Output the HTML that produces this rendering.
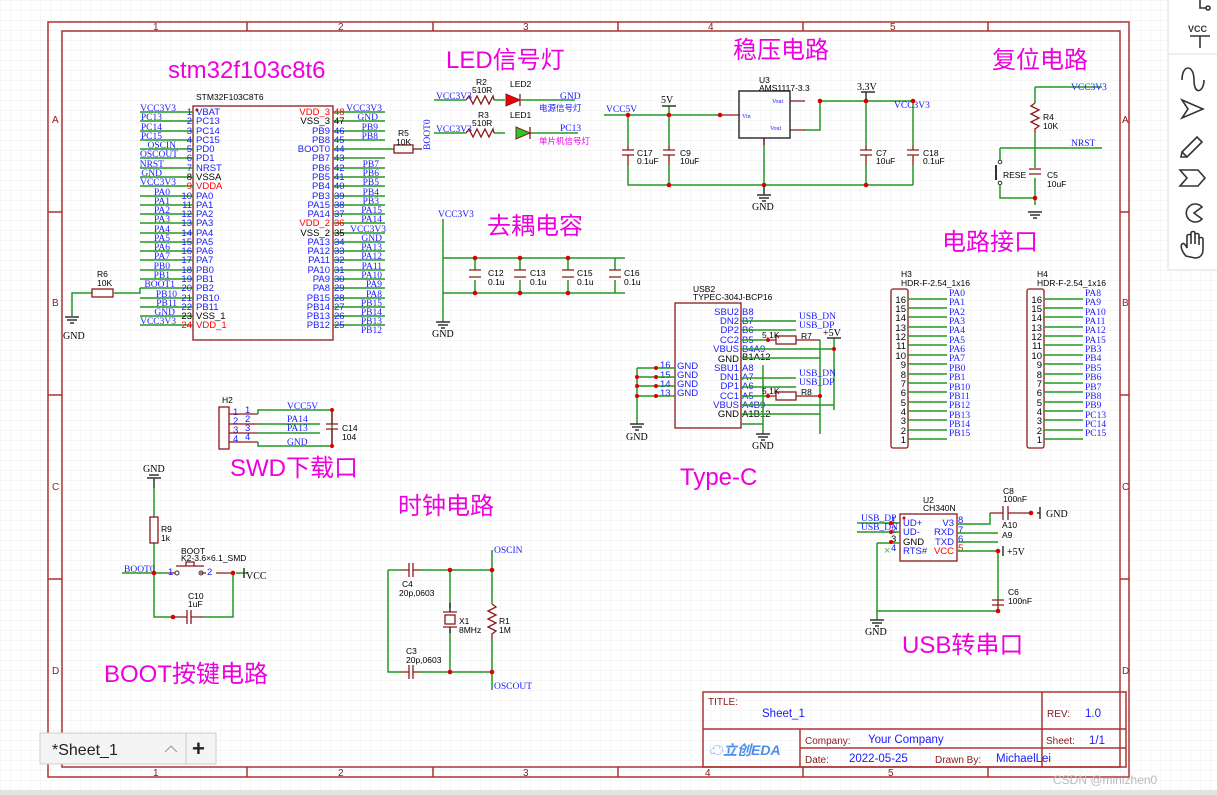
<!DOCTYPE html>
<html><head><meta charset="utf-8">
<style>
html,body{margin:0;padding:0;width:1217px;height:795px;overflow:hidden;background:#fff}
svg{display:block}
.w{stroke:#229922;stroke-width:1.5;fill:none}
.r{stroke:#8b1a1a;stroke-width:1.3;fill:none}
.f{stroke:#a33;fill:none;stroke-width:1.5}
.n{font-family:"Liberation Serif",serif;font-size:9.5px;fill:#1a1aff}
.p{font-family:"Liberation Sans",sans-serif;font-size:9.5px;fill:#1a1aff}
.k{font-family:"Liberation Sans",sans-serif;font-size:9.5px;fill:#000}
.red{font-family:"Liberation Sans",sans-serif;font-size:9.5px;fill:#f00}
.s{font-family:"Liberation Sans",sans-serif;font-size:8.5px;fill:#000}
.g{font-family:"Liberation Serif",serif;font-size:10px;fill:#000}
.m{font-family:"Liberation Sans","Noto Sans CJK SC",sans-serif;font-size:24px;fill:#ee00dd}
.d{fill:#d00}
.tb{font-family:"Liberation Sans",sans-serif;font-size:10px;fill:#8b1a1a}
.tv{font-family:"Liberation Sans",sans-serif;font-size:11.5px;fill:#1a1aff}
</style></head><body>
<svg width="1217" height="795" viewBox="0 0 1217 795" xmlns="http://www.w3.org/2000/svg">
<defs>
<pattern id="gr" width="10" height="10" patternUnits="userSpaceOnUse"><path d="M10 0H0V10" fill="none" stroke="#ececec" stroke-width="1"/></pattern>
</defs>
<rect width="1217" height="795" fill="url(#gr)"/>
<!-- frame -->
<rect x="48" y="22" width="1081" height="755" class="f"/>
<rect x="62" y="31" width="1058" height="736" class="f"/>
<g class="f">
<path d="M247 22V31M433 22V31M618 22V31M803 22V31M988 22V31"/>
<path d="M247 767V777M433 767V777M618 767V777M803 767V777M988 767V777"/>
<path d="M48 212H62M48 395H62M48 579H62M1120 212H1129M1120 395H1129M1120 579H1129"/>
</g>
<g class="tb" font-size="9">
<text x="153" y="30">1</text><text x="338" y="30">2</text><text x="523" y="30">3</text><text x="708" y="30">4</text><text x="890" y="30">5</text>
<text x="153" y="776">1</text><text x="338" y="776">2</text><text x="523" y="776">3</text><text x="705" y="776">4</text><text x="888" y="776">5</text>
<text x="52" y="123">A</text><text x="52" y="306">B</text><text x="52" y="490">C</text><text x="52" y="674">D</text>
<text x="1122" y="123">A</text><text x="1122" y="306">B</text><text x="1122" y="490">C</text><text x="1122" y="674">D</text>
</g>

<!-- titles -->
<text x="168" y="78" class="m">stm32f103c8t6</text>
<text x="446" y="68" class="m">LED信号灯</text>
<text x="733" y="58" class="m">稳压电路</text>
<text x="992" y="68" class="m">复位电路</text>
<text x="487" y="234" class="m">去耦电容</text>
<text x="942" y="250" class="m">电路接口</text>
<text x="230" y="476" class="m" font-size="17">SWD下载口</text>
<text x="680" y="485" class="m" font-size="28">Type-C</text>
<text x="398" y="514" class="m">时钟电路</text>
<text x="104" y="682" class="m">BOOT按键电路</text>
<text x="902" y="653" class="m">USB转串口</text>

<!-- STM32 -->
<text x="196" y="100" class="s">STM32F103C8T6</text>
<rect x="193" y="106" width="140" height="234" class="r"/>
<circle cx="197" cy="110" r="1.5" class="d"/>
<g class="w">
<path d="M140 112H193M140 121H193M140 131H193M140 140H193M140 149H193M140 158H193M140 168H193M140 177H193M140 186H193M140 196H193M140 205H193M140 214H193M140 223H193M140 233H193M140 242H193M140 251H193M140 260H193M140 270H193M140 279H193M140 288H193M140 298H193M140 307H193M140 316H193M140 325H193"/>
<path d="M333 112H385M333 121H385M333 131H385M333 140H385M333 158H385M333 168H385M333 177H385M333 186H385M333 196H385M333 205H385M333 214H385M333 223H385M333 233H385M333 242H385M333 251H385M333 260H385M333 270H385M333 279H385M333 288H385M333 298H385M333 307H385M333 316H385M333 325H385"/>
<path d="M333 149H394"/>
<path d="M72 316V293H92M114 293H140V288"/>
</g>
<g class="n" text-anchor="end">
<text x="176" y="111">VCC3V3</text><text x="162" y="120">PC13</text><text x="162" y="130">PC14</text><text x="162" y="139">PC15</text><text x="176" y="148">OSCIN</text><text x="178" y="157">OSCOUT</text><text x="164" y="167">NRST</text><text x="162" y="176">GND</text><text x="176" y="185">VCC3V3</text>
<text x="170" y="195">PA0</text><text x="170" y="204">PA1</text><text x="170" y="213">PA2</text><text x="170" y="222">PA3</text><text x="170" y="232">PA4</text><text x="170" y="241">PA5</text><text x="170" y="250">PA6</text><text x="170" y="259">PA7</text><text x="170" y="269">PB0</text><text x="170" y="278">PB1</text><text x="175" y="287">BOOT1</text><text x="177" y="297">PB10</text><text x="177" y="306">PB11</text><text x="175" y="315">GND</text><text x="176" y="324">VCC3V3</text>
<text x="382" y="111">VCC3V3</text><text x="378" y="120">GND</text><text x="378" y="130">PB9</text><text x="378" y="139">PB8</text><text x="379" y="167">PB7</text><text x="379" y="176">PB6</text><text x="379" y="185">PB5</text><text x="379" y="195">PB4</text><text x="379" y="204">PB3</text><text x="382" y="213">PA15</text><text x="382" y="222">PA14</text><text x="386" y="232">VCC3V3</text><text x="382" y="241">GND</text><text x="382" y="250">PA13</text><text x="382" y="259">PA12</text><text x="382" y="269">PA11</text><text x="382" y="278">PA10</text><text x="382" y="287">PA9</text><text x="382" y="297">PA8</text><text x="382" y="306">PB15</text><text x="382" y="315">PB14</text><text x="382" y="324">PB13</text><text x="382" y="333">PB12</text>
</g>
<g class="p" text-anchor="end">
<text x="192" y="115">1</text><text x="192" y="124">2</text><text x="192" y="134">3</text><text x="192" y="143">4</text><text x="192" y="152">5</text><text x="192" y="161">6</text><text x="192" y="171">7</text><text x="192" y="180" fill="#000">8</text><text x="192" y="189" fill="#f00">9</text><text x="192" y="199">10</text><text x="192" y="208">11</text><text x="192" y="217">12</text><text x="192" y="226">13</text><text x="192" y="236">14</text><text x="192" y="245">15</text><text x="192" y="254">16</text><text x="192" y="263">17</text><text x="192" y="273">18</text><text x="192" y="282">19</text><text x="192" y="291">20</text><text x="192" y="301">21</text><text x="192" y="310">22</text><text x="192" y="319" fill="#000">23</text><text x="192" y="328" fill="#f00">24</text>
<text x="330" y="115" fill="#f00">VDD_3</text><text x="330" y="124" fill="#000">VSS_3</text><text x="330" y="134">PB9</text><text x="330" y="143">PB8</text><text x="330" y="152">BOOT0</text><text x="330" y="161">PB7</text><text x="330" y="171">PB6</text><text x="330" y="180">PB5</text><text x="330" y="189">PB4</text><text x="330" y="199">PB3</text><text x="330" y="208">PA15</text><text x="330" y="217">PA14</text><text x="330" y="226" fill="#f00">VDD_2</text><text x="330" y="236" fill="#000">VSS_2</text><text x="330" y="245">PA13</text><text x="330" y="254">PA12</text><text x="330" y="263">PA11</text><text x="330" y="273">PA10</text><text x="330" y="282">PA9</text><text x="330" y="291">PA8</text><text x="330" y="301">PB15</text><text x="330" y="310">PB14</text><text x="330" y="319">PB13</text><text x="330" y="328">PB12</text>
</g>
<g class="p">
<text x="196" y="115">VBAT</text><text x="196" y="124">PC13</text><text x="196" y="134">PC14</text><text x="196" y="143">PC15</text><text x="196" y="152">PD0</text><text x="196" y="161">PD1</text><text x="196" y="171">NRST</text><text x="196" y="180" fill="#000">VSSA</text><text x="196" y="189" fill="#f00">VDDA</text><text x="196" y="199">PA0</text><text x="196" y="208">PA1</text><text x="196" y="217">PA2</text><text x="196" y="226">PA3</text><text x="196" y="236">PA4</text><text x="196" y="245">PA5</text><text x="196" y="254">PA6</text><text x="196" y="263">PA7</text><text x="196" y="273">PB0</text><text x="196" y="282">PB1</text><text x="196" y="291">PB2</text><text x="196" y="301">PB10</text><text x="196" y="310">PB11</text><text x="196" y="319" fill="#000">VSS_1</text><text x="196" y="328" fill="#f00">VDD_1</text>
<text x="334" y="115" fill="#f00">48</text><text x="334" y="124" fill="#000">47</text><text x="334" y="134">46</text><text x="334" y="143">45</text><text x="334" y="152">44</text><text x="334" y="161">43</text><text x="334" y="171">42</text><text x="334" y="180">41</text><text x="334" y="189">40</text><text x="334" y="199">39</text><text x="334" y="208">38</text><text x="334" y="217">37</text><text x="334" y="226" fill="#f00">36</text><text x="334" y="236" fill="#000">35</text><text x="334" y="245">34</text><text x="334" y="254">33</text><text x="334" y="263">32</text><text x="334" y="273">31</text><text x="334" y="282">30</text><text x="334" y="291">29</text><text x="334" y="301">28</text><text x="334" y="310">27</text><text x="334" y="319">26</text><text x="334" y="328">25</text>
</g>
<!-- R5 -->
<rect x="394" y="145" width="19" height="8" class="r"/><path d="M413 149H422" class="r"/>
<text x="398" y="136" class="s">R5</text><text x="396" y="145" class="s">10K</text>
<text x="430" y="150" class="n" transform="rotate(-90 430 150)">BOOT0</text>
<!-- R6 -->
<rect x="92" y="289" width="21" height="8" class="r"/>
<text x="97" y="277" class="s">R6</text><text x="97" y="286" class="s">10K</text>
<path d="M65 317H79M67 320H77M70 323H74" stroke="#333" stroke-width="1.5"/>
<text x="63" y="339" class="g">GND</text>

<!-- LED -->
<g class="w"><path d="M434 100H466M494 100H505M521 100H575M434 133H466M494 133H505M530 133H578"/></g>
<path d="M466 100l3-4 4 8 4-8 4 8 4-8 4 8 4-8 1 4M466 133l3-4 4 8 4-8 4 8 4-8 4 8 4-8 1 4" class="r"/>
<path d="M506 94V106L520 100Z" fill="#e00" stroke="#8b1a1a"/><path d="M520 94V106" class="r"/>
<path d="M516 127V139L530 133Z" fill="#2c2" stroke="#8b1a1a"/><path d="M530 127V139" class="r"/>
<text x="436" y="99" class="n">VCC3V3</text><text x="436" y="132" class="n">VCC3V3</text>
<text x="476" y="85" class="s">R2</text><text x="472" y="93" class="s">510R</text>
<text x="478" y="118" class="s">R3</text><text x="472" y="126" class="s">510R</text>
<text x="510" y="87" class="s">LED2</text><text x="510" y="118" class="s">LED1</text>
<text x="560" y="99" class="n">GND</text><text x="560" y="131" class="n">PC13</text>
<text x="539" y="111" font-size="8.5" font-family="Liberation Sans,Noto Sans CJK SC,sans-serif" fill="#1a1aff">电源信号灯</text>
<text x="539" y="144" font-size="8.5" font-family="Liberation Sans,Noto Sans CJK SC,sans-serif" fill="#e0e">单片机信号灯</text>

<!-- regulator -->
<g class="w"><path d="M604 115H720M628 115V145M669 115V145M628 165V185H913M669 165V185M764 138V185M820 101H913M820 101V130H804M866 101V145M866 165V185M913 101V145M913 165V185M669 115V106"/></g>
<path d="M720 115H740M790 101H805M790 130H805M764 138V145" class="r"/>
<rect x="739" y="91" width="51" height="47" stroke="#333" fill="none" stroke-width="1.5"/>
<text x="759" y="83" class="s">U3</text><text x="759" y="91" class="s">AMS1117-3.3</text>
<text x="742" y="118" font-size="6" fill="#1a1aff" font-family="Liberation Serif,serif">Vin</text>
<text x="772" y="103" font-size="6" fill="#1a1aff" font-family="Liberation Serif,serif">Vout</text>
<text x="770" y="130" font-size="6" fill="#1a1aff" font-family="Liberation Serif,serif">Vout</text>
<text x="606" y="112" class="n">VCC5V</text>
<path d="M662 106H676M861 92H875M866 92V101" stroke="#333" stroke-width="1.5"/>
<text x="661" y="103" class="g">5V</text><text x="857" y="90" class="g">3.3V</text>
<text x="894" y="108" class="n">VCC3V3</text>
<g class="r"><path d="M622 150H634M622 155H634M663 150H675M663 155H675M860 150H872M860 155H872M907 150H919M907 155H919M628 145V150M628 155V165M669 145V150M669 155V165M866 145V150M866 155V165M913 145V150M913 155V165"/></g>
<text x="637" y="156" class="s">C17</text><text x="637" y="164" class="s">0.1uF</text>
<text x="680" y="156" class="s">C9</text><text x="680" y="164" class="s">10uF</text>
<text x="876" y="156" class="s">C7</text><text x="876" y="164" class="s">10uF</text>
<text x="923" y="156" class="s">C18</text><text x="923" y="164" class="s">0.1uF</text>
<g class="d"><circle cx="628" cy="115" r="2.3"/><circle cx="669" cy="115" r="2.3"/><circle cx="720" cy="115" r="2.3"/><circle cx="820" cy="101" r="2.3"/><circle cx="866" cy="101" r="2.3"/><circle cx="913" cy="101" r="2.3"/><circle cx="669" cy="185" r="2.3"/><circle cx="764" cy="185" r="2.3"/><circle cx="866" cy="185" r="2.3"/></g>
<path d="M757 195H771M759 198H769M762 201H766M764 185V195" stroke="#333" stroke-width="1.5"/>
<text x="752" y="210" class="g">GND</text>

<!-- reset -->
<g class="w"><path d="M1035 87H1102M1035 87V103M1035 133V148H1102M1000 148H1035M1000 148V160M1000 185V198H1035M1035 148V168M1035 178V198V205"/></g>
<path d="M1035 103l-4 3 8 4-8 4 8 4-8 4 8 4-4 3V133" class="r"/>
<path d="M1029 169H1041M1029 174H1041" class="r"/>
<path d="M996 165V180" stroke="#333" stroke-width="2"/>
<circle cx="1000" cy="162" r="1.8" fill="none" stroke="#333"/><circle cx="1000" cy="183" r="1.8" fill="none" stroke="#333"/>
<circle cx="1035" cy="198" r="2.3" class="d"/>
<text x="1071" y="90" class="n">VCC3V3</text><text x="1071" y="146" class="n">NRST</text>
<text x="1043" y="120" class="s">R4</text><text x="1043" y="129" class="s">10K</text>
<text x="1003" y="178" class="s">RESE</text><text x="1047" y="178" class="s">C5</text><text x="1047" y="187" class="s">10uF</text>
<path d="M1028 212H1042M1030 215H1040M1033 218H1037" stroke="#333" stroke-width="1.5"/>

<!-- decoupling -->
<g class="w"><path d="M443 219V293M443 258H625M443 293H625M475 258V270M475 280V293M520 258V270M520 280V293M568 258V270M568 280V293M615 258V270M615 280V293M443 293V322"/></g>
<g class="r"><path d="M469 270H481M469 277H481M514 270H526M514 277H526M562 270H574M562 277H574M609 270H621M609 277H621"/></g>
<text x="438" y="217" class="n">VCC3V3</text>
<text x="488" y="276" class="s">C12</text><text x="488" y="285" class="s">0.1u</text>
<text x="530" y="276" class="s">C13</text><text x="530" y="285" class="s">0.1u</text>
<text x="577" y="276" class="s">C15</text><text x="577" y="285" class="s">0.1u</text>
<text x="624" y="276" class="s">C16</text><text x="624" y="285" class="s">0.1u</text>
<g class="d"><circle cx="475" cy="258" r="2.3"/><circle cx="520" cy="258" r="2.3"/><circle cx="568" cy="258" r="2.3"/><circle cx="475" cy="293" r="2.3"/><circle cx="520" cy="293" r="2.3"/><circle cx="568" cy="293" r="2.3"/></g>
<path d="M436 322H450M438 325H448M441 328H445" stroke="#333" stroke-width="1.5"/>
<text x="432" y="337" class="g">GND</text>

<!-- H2 -->
<rect x="219" y="407" width="10" height="42" class="r"/>
<text x="222" y="403" class="s">H2</text>
<g class="p"><text x="233" y="415">1</text><text x="233" y="424">2</text><text x="233" y="433">3</text><text x="233" y="442">4</text><text x="245" y="413">1</text><text x="245" y="422">2</text><text x="245" y="431">3</text><text x="245" y="440">4</text></g>
<g class="r"><path d="M229 414H258M229 424H258M229 433H258M229 442H258"/></g>
<g class="w"><path d="M258 414V410H332V446H258V442M258 424H320M258 433H320"/></g>
<path d="M326 424H338M326 429H338M332 410V424M332 429V446" class="r"/>
<text x="287" y="409" class="n">VCC5V</text><text x="287" y="422" class="n">PA14</text><text x="287" y="431" class="n">PA13</text><text x="287" y="445" class="n">GND</text>
<text x="342" y="431" class="s">C14</text><text x="342" y="440" class="s">104</text>
<circle cx="332" cy="410" r="2" class="d"/><circle cx="332" cy="446" r="2" class="d"/>

<!-- USB2 -->
<rect x="675" y="303" width="66" height="125" class="r"/>
<text x="693" y="292" class="s">USB2</text><text x="693" y="300" class="s">TYPEC-304J-BCP16</text>
<g class="p" text-anchor="end"><text x="739" y="315">SBU2</text><text x="739" y="324">DN2</text><text x="739" y="333">DP2</text><text x="739" y="343">CC2</text><text x="739" y="352">VBUS</text><text x="739" y="362" fill="#000">GND</text><text x="739" y="371">SBU1</text><text x="739" y="380">DN1</text><text x="739" y="389">DP1</text><text x="739" y="399">CC1</text><text x="739" y="408">VBUS</text><text x="739" y="417" fill="#000">GND</text></g>
<g class="p"><text x="742" y="315">B8</text><text x="742" y="324">B7</text><text x="742" y="333">B6</text><text x="742" y="343">B5</text><text x="742" y="352">B4A9</text><text x="742" y="360" fill="#000">B1A12</text><text x="742" y="371">A8</text><text x="742" y="380">A7</text><text x="742" y="389">A6</text><text x="742" y="399">A5</text><text x="742" y="408">A4B9</text><text x="742" y="417" fill="#000">A1B12</text>
<text x="677" y="369">GND</text><text x="677" y="378">GND</text><text x="677" y="387">GND</text><text x="677" y="396">GND</text><text x="660" y="368">16</text><text x="660" y="378">15</text><text x="660" y="387">14</text><text x="660" y="396">13</text></g>
<g class="w"><path d="M741 321H796M741 330H796M741 340H770M741 349H834M834 338V410M741 358H820M820 340V434M741 378H796M741 387H796M741 396H770M741 405H834M741 414H820M741 424H763M763 365V434M637 368V424M637 368H675M637 377H675M637 386H675M637 396H675"/></g>
<path d="M770 340H776M796 340H820M770 396H776M796 396H820" class="r"/>
<rect x="776" y="336" width="20" height="8" class="r"/><rect x="776" y="392" width="20" height="8" class="r"/>
<text x="762" y="338" class="s">5.1K</text><text x="762" y="394" class="s">5.1K</text><text x="801" y="339" class="s">R7</text><text x="801" y="395" class="s">R8</text>
<text x="799" y="319" class="n">USB_DN</text><text x="799" y="328" class="n">USB_DP</text><text x="799" y="376" class="n">USB_DN</text><text x="799" y="385" class="n">USB_DP</text>
<path d="M827 338H841" stroke="#333" stroke-width="1.5"/><text x="823" y="336" class="g">+5V</text>
<g class="d"><circle cx="834" cy="349" r="2"/><circle cx="820" cy="396" r="2"/><circle cx="768" cy="340" r="2"/><circle cx="768" cy="396" r="2"/><circle cx="637" cy="377" r="2"/><circle cx="637" cy="386" r="2"/><circle cx="637" cy="396" r="2"/><circle cx="656" cy="368" r="2"/><circle cx="656" cy="377" r="2"/><circle cx="656" cy="386" r="2"/><circle cx="656" cy="396" r="2"/></g>
<path d="M630 424H644M632 427H642M635 430H639M756 434H770M758 437H768M761 440H765" stroke="#333" stroke-width="1.5"/>
<text x="626" y="440" class="g">GND</text><text x="752" y="449" class="g">GND</text>

<!-- H3 H4 -->
<text x="901" y="277" class="s">H3</text><text x="901" y="286" class="s">HDR-F-2.54_1x16</text>
<text x="1037" y="277" class="s">H4</text><text x="1037" y="286" class="s">HDR-F-2.54_1x16</text>
<rect x="891" y="289" width="17" height="159" rx="2" class="r"/>
<rect x="1027" y="289" width="17" height="159" rx="2" class="r"/>
<g class="w"><path d="M908 299H947M908 308H947M908 317H947M908 327H947M908 336H947M908 345H947M908 355H947M908 364H947M908 374H947M908 383H947M908 392H947M908 402H947M908 411H947M908 420H947M908 430H947M908 439H947"/>
<path d="M1044 299H1083M1044 308H1083M1044 317H1083M1044 327H1083M1044 336H1083M1044 345H1083M1044 355H1083M1044 364H1083M1044 374H1083M1044 383H1083M1044 392H1083M1044 402H1083M1044 411H1083M1044 420H1083M1044 430H1083M1044 439H1083"/></g>
<g class="k" text-anchor="end"><text x="906" y="303">16</text><text x="906" y="312">15</text><text x="906" y="321">14</text><text x="906" y="331">13</text><text x="906" y="340">12</text><text x="906" y="349">11</text><text x="906" y="359">10</text><text x="906" y="368">9</text><text x="906" y="378">8</text><text x="906" y="387">7</text><text x="906" y="396">6</text><text x="906" y="406">5</text><text x="906" y="415">4</text><text x="906" y="424">3</text><text x="906" y="434">2</text><text x="906" y="443">1</text>
<text x="1042" y="303">16</text><text x="1042" y="312">15</text><text x="1042" y="321">14</text><text x="1042" y="331">13</text><text x="1042" y="340">12</text><text x="1042" y="349">11</text><text x="1042" y="359">10</text><text x="1042" y="368">9</text><text x="1042" y="378">8</text><text x="1042" y="387">7</text><text x="1042" y="396">6</text><text x="1042" y="406">5</text><text x="1042" y="415">4</text><text x="1042" y="424">3</text><text x="1042" y="434">2</text><text x="1042" y="443">1</text></g>
<g class="n"><text x="949" y="296">PA0</text><text x="949" y="305">PA1</text><text x="949" y="315">PA2</text><text x="949" y="324">PA3</text><text x="949" y="333">PA4</text><text x="949" y="343">PA5</text><text x="949" y="352">PA6</text><text x="949" y="361">PA7</text><text x="949" y="371">PB0</text><text x="949" y="380">PB1</text><text x="949" y="390">PB10</text><text x="949" y="399">PB11</text><text x="949" y="408">PB12</text><text x="949" y="418">PB13</text><text x="949" y="427">PB14</text><text x="949" y="436">PB15</text>
<text x="1085" y="296">PA8</text><text x="1085" y="305">PA9</text><text x="1085" y="315">PA10</text><text x="1085" y="324">PA11</text><text x="1085" y="333">PA12</text><text x="1085" y="343">PA15</text><text x="1085" y="352">PB3</text><text x="1085" y="361">PB4</text><text x="1085" y="371">PB5</text><text x="1085" y="380">PB6</text><text x="1085" y="390">PB7</text><text x="1085" y="399">PB8</text><text x="1085" y="408">PB9</text><text x="1085" y="418">PC13</text><text x="1085" y="427">PC14</text><text x="1085" y="436">PC15</text></g>

<!-- BOOT -->
<path d="M147 478H161M149 475H159M154 478V488" stroke="#333" stroke-width="1.5"/>
<text x="143" y="472" class="g">GND</text>
<g class="w"><path d="M154 488V517M154 543V573M122 573H168M154 573V617H172M236 573H247M233 573V617H203"/></g>
<rect x="150" y="517" width="8" height="26" class="r"/>
<path d="M168 573H175M200 573H206M176 566H204M186 566V562H194V566M216 573H233" class="r"/>
<circle cx="177" cy="573" r="2" fill="none" stroke="#333"/><circle cx="201" cy="573" r="2" fill="none" stroke="#333"/>
<path d="M187 610V624M191 610V624M172 617H187M191 617H203" class="r"/>
<text x="161" y="532" class="s">R9</text><text x="161" y="541" class="s">1k</text>
<text x="181" y="554" class="s">BOOT</text><text x="181" y="561" class="s">K2-3.6×6.1_SMD</text>
<text x="124" y="572" class="n">BOOT0</text>
<path d="M244 568V578" stroke="#333" stroke-width="1.5"/><text x="246" y="579" class="g">VCC</text>
<text x="188" y="599" class="s">C10</text><text x="188" y="607" class="s">1uF</text>
<g class="d"><circle cx="154" cy="573" r="2.3"/><circle cx="233" cy="573" r="2.3"/><circle cx="173" cy="617" r="2.3"/></g>
<g class="p"><text x="168" y="575">1</text><text x="207" y="575">2</text></g>

<!-- clock -->
<g class="w"><path d="M388 570V672H402M388 570H402M420 570H492M420 672H492M450 570V608M450 630V672M492 550V604M492 640V690"/></g>
<path d="M402 570H409M413 570H420M409 563V577M413 563V577M402 672H409M413 672H420M409 665V679M413 665V679" class="r"/>
<rect x="445" y="615" width="10" height="9" class="r" fill="#fdd"/><path d="M443 612H457M443 627H457" class="r"/><path d="M450 603V612M450 627V633" stroke="#333" stroke-width="1.5"/>
<path d="M492 604l4 3-8 4 8 4-8 4 8 4-8 4 8 4-4 3V640" class="r"/>
<g class="d"><circle cx="450" cy="570" r="2.3"/><circle cx="492" cy="570" r="2.3"/><circle cx="450" cy="672" r="2.3"/><circle cx="492" cy="672" r="2.3"/></g>
<text x="494" y="553" class="n">OSCIN</text><text x="494" y="689" class="n">OSCOUT</text>
<text x="402" y="587" class="s">C4</text><text x="399" y="596" class="s">20p,0603</text>
<text x="406" y="654" class="s">C3</text><text x="406" y="663" class="s">20p,0603</text>
<text x="459" y="624" class="s">X1</text><text x="459" y="633" class="s">8MHz</text>
<text x="499" y="624" class="s">R1</text><text x="499" y="633" class="s">1M</text>

<!-- CH340 -->
<rect x="900" y="514" width="57" height="47" class="r"/>
<circle cx="904" cy="518" r="1.5" class="d"/>
<text x="923" y="503" class="s">U2</text><text x="923" y="511" class="s">CH340N</text>
<g class="p"><text x="903" y="526">UD+</text><text x="903" y="535">UD-</text><text x="903" y="545" fill="#000">GND</text><text x="903" y="554">RTS#</text><text x="891" y="523">1</text><text x="891" y="533">2</text><text x="891" y="542" fill="#000">3</text><text x="891" y="551">4</text>
<text x="958" y="523">8</text><text x="958" y="533">7</text><text x="958" y="542">6</text><text x="958" y="551" fill="#f00">5</text></g>
<g class="p" text-anchor="end"><text x="954" y="526">V3</text><text x="954" y="535">RXD</text><text x="954" y="545">TXD</text><text x="954" y="554" fill="#f00">VCC</text></g>
<g class="w"><path d="M857 523H900M857 532H900M877 543H900M877 543V611H998M957 524H990V513M957 533H998M957 542H998M957 551H998M998 551V600M877 611V620"/></g>
<path d="M990 513H1003M1008 513H1031M1003 506V520M1008 506V520M998 600V611M992 600H1004M992 605H1004" class="r"/>
<path d="M1040 507V519M1037 513H1040M1003 546V556" stroke="#333" stroke-width="1.5"/>
<text x="1046" y="517" class="g">GND</text><text x="1007" y="555" class="g">+5V</text>
<text x="884" y="554" fill="#3c3" font-size="11" font-family="Liberation Sans,sans-serif">×</text>
<text x="861" y="521" class="n">USB_DP</text><text x="861" y="530" class="n">USB_DN</text>
<text x="1002" y="528" class="s">A10</text><text x="1002" y="538" class="s">A9</text>
<text x="1003" y="494" class="s">C8</text><text x="1003" y="502" class="s">100nF</text>
<text x="1008" y="595" class="s">C6</text><text x="1008" y="604" class="s">100nF</text>
<g class="d"><circle cx="1031" cy="513" r="2.3"/><circle cx="998" cy="551" r="2.3"/><circle cx="998" cy="611" r="2.3"/><circle cx="891" cy="523" r="2"/><circle cx="891" cy="532" r="2"/><circle cx="891" cy="542" r="2"/></g>
<path d="M870 620H884M872 623H882M875 626H879" stroke="#333" stroke-width="1.5"/>
<text x="865" y="635" class="g">GND</text>

<!-- title block -->
<g class="f" stroke-width="1.3">
<rect x="703" y="692" width="423" height="75"/>
<path d="M703 729H1126M1042 692V767M800 729V767M800 748H1126M1042 748"/>
</g>
<text x="708" y="705" class="tb">TITLE:</text>
<text x="762" y="717" class="tv">Sheet_1</text>
<text x="1047" y="717" class="tb">REV:</text><text x="1085" y="717" class="tv">1.0</text>
<text x="805" y="744" class="tb">Company:</text><text x="868" y="743" class="tv" font-size="11">Your Company</text>
<text x="1046" y="744" class="tb">Sheet:</text><text x="1089" y="744" class="tv" font-size="11">1/1</text>
<text x="805" y="763" class="tb">Date:</text><text x="849" y="762" class="tv" font-size="11">2022-05-25</text>
<text x="935" y="763" class="tb">Drawn By:</text><text x="996" y="762" class="tv" font-size="11">MichaelLei</text>
<text x="709" y="755" font-family="Liberation Sans,Noto Sans CJK SC,sans-serif" font-size="14" font-weight="bold" font-style="italic" fill="#4d8ee8">☁立创EDA</text>
<text x="1053" y="784" font-family="Liberation Sans,sans-serif" font-size="12" fill="#bbb">CSDN @minizhen0</text>

<!-- bottom strip -->
<rect x="0" y="790" width="1217" height="5" fill="#e4e4e4"/>
<!-- sheet tab -->
<rect x="40" y="733" width="146" height="31" fill="#f4f4f4" stroke="#ccc"/>
<text x="52" y="755" font-family="Liberation Sans,sans-serif" font-size="16" fill="#222">*Sheet_1</text>
<path d="M165 752l6-6 6 6" fill="none" stroke="#999"/>
<rect x="186" y="733" width="30" height="31" fill="#f4f4f4" stroke="#ccc"/>
<text x="192" y="756" font-family="Liberation Sans,sans-serif" font-size="22" font-weight="bold" fill="#222">+</text>

<!-- toolbar -->
<rect x="1168" y="-2" width="52" height="272" fill="#fff" stroke="#ddd"/>
<rect x="1168" y="-2" width="52" height="56" fill="#fff" stroke="#ddd"/>
<g stroke="#333" stroke-width="1.6" fill="none">
<path d="M1200 0V8H1206"/><circle cx="1208" cy="8" r="2"/>
<path d="M1190 36H1210M1200 36V48"/>
<path d="M1182 80c0-16 12-16 12 0s10 12 10 0"/>
<path d="M1182 100L1203 109L1182 118L1188 109Z"/>
<path d="M1182 152L1197 137L1202 142L1187 157Z M1182 152L1181 157L1187 157"/>
<path d="M1180 170H1198L1205 178L1198 186H1180L1187 178Z"/>
<path d="M1202 207A9 9 0 1 0 1202 219L1194 213Z"/>
<path d="M1186 256c-4-4-6-10-4-12s4 2 5 4V236c0-2 4-2 4 0v8V233c0-2 4-2 4 0v11V235c0-2 4-2 4 0v10V239c0-2 4-2 4 0v10c0 6-3 9-8 9z"/>
</g>
<text x="1188" y="32" font-family="Liberation Sans,sans-serif" font-size="9" font-weight="bold" fill="#333">VCC</text>
</svg>
</body></html>
